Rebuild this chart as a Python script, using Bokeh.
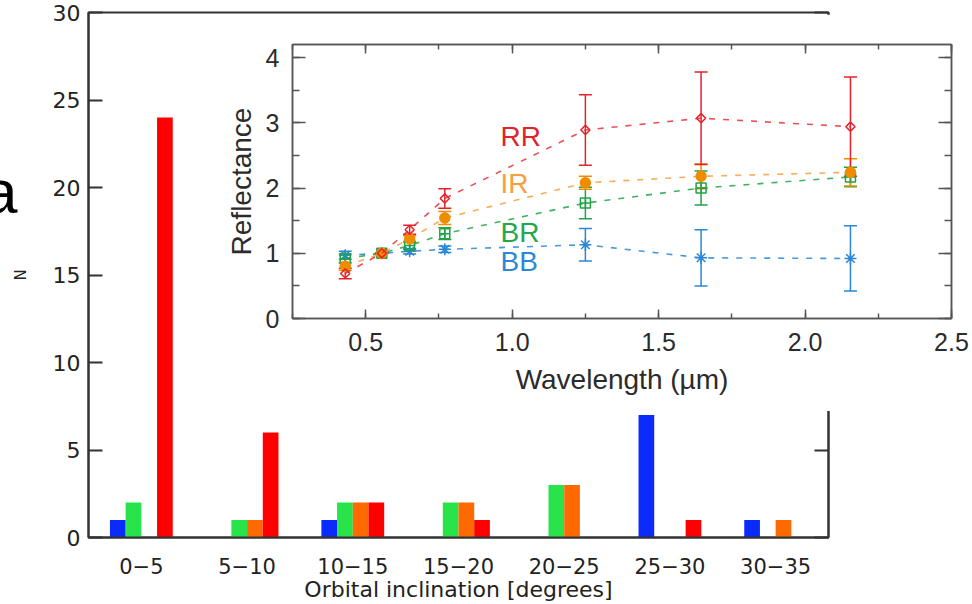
import numpy as np
from bokeh.plotting import figure
from bokeh.models import (FactorRange, Range1d, ColumnDataSource, LinearAxis,
                          SingleIntervalTicker, PrintfTickFormatter, Whisker, TeeHead, Div)
from bokeh.transform import dodge
from bokeh.core.properties import value
from bokeh.embed import file_html
from bokeh.resources import INLINE

# ---------------- data: histogram ----------------
categories = ["0\u22125", "5\u221210", "10\u221215", "15\u221220", "20\u221225", "25\u221230", "30\u221235"]
n_blue = [1, 0, 1, 0, 0, 7, 1]
n_green = [2, 1, 2, 2, 3, 0, 0]
n_orange = [0, 1, 2, 2, 3, 0, 1]
n_red = [24, 6, 2, 1, 0, 1, 0]
y_ticks_main = [0, 5, 10, 15, 20, 25, 30]

# ---------------- data: inset reflectance ----------------
wavelength = [0.43, 0.555, 0.65, 0.77, 1.25, 1.645, 2.155]
rr = [0.69, 1.00, 1.36, 1.84, 2.89, 3.07, 2.94]
rr_err = [0.08, 0.0, 0.07, 0.15, 0.54, 0.71, 0.76]
ir = [0.80, 1.00, 1.22, 1.54, 2.08, 2.18, 2.24]
ir_err = [0.06, 0.0, 0.05, 0.10, 0.10, 0.19, 0.21]
br = [0.92, 1.00, 1.12, 1.30, 1.77, 2.00, 2.17]
br_err = [0.07, 0.0, 0.06, 0.09, 0.24, 0.26, 0.15]
bb = [0.97, 1.00, 1.03, 1.06, 1.13, 0.93, 0.92]
bb_err = [0.06, 0.0, 0.04, 0.05, 0.25, 0.43, 0.50]
group_names = ["RR", "IR", "BR", "BB"]

# label positions (data coords) kept separate
label_x = [0.96, 0.96, 0.96, 0.96]
label_y = [2.79, 2.07, 1.32, 0.87]

FONT_MAIN = "DejaVu Sans"
FONT_INSET = "Liberation Sans"
AX = "#333333"

# ---------------- main histogram figure ----------------
src = ColumnDataSource(dict(cat=categories, blue=n_blue, green=n_green,
                            orange=n_orange, red=n_red))
p = figure(width=972, height=604,
           x_range=FactorRange(factors=categories, range_padding=0),
           y_range=Range1d(0, 30),
           min_border_left=88, min_border_right=144, min_border_top=12, min_border_bottom=66,
           output_backend="svg", toolbar_location=None)
p.grid.visible = False
p.outline_line_color = AX
p.outline_line_width = 2
p.background_fill_color = "white"
p.border_fill_color = "white"

w = 0.1485
bar_specs = [("blue", -1.5 * w, "#0b2bfa"), ("green", -0.5 * w, "#28e34a"),
             ("orange", 0.5 * w, "#ff6a00"), ("red", 1.5 * w, "#ff0000")]
for col, off, color in bar_specs:
    p.vbar(x=dodge("cat", off, range=p.x_range), top=col, width=w, source=src,
           fill_color=color, line_color=None)

p.yaxis.ticker = y_ticks_main
p.yaxis.major_tick_in = 14
p.yaxis.major_tick_out = 0
p.yaxis.minor_tick_line_color = None
p.yaxis.axis_line_width = 2
p.yaxis.axis_line_color = AX
p.yaxis.major_tick_line_width = 2
p.yaxis.major_tick_line_color = AX
p.yaxis.major_label_text_font = FONT_MAIN
p.yaxis.major_label_text_font_size = "22px"
p.yaxis.major_label_text_color = "#222222"
p.yaxis.major_label_standoff = 8
p.yaxis.axis_label = "N"
p.yaxis.axis_label_text_font = FONT_MAIN
p.yaxis.axis_label_text_font_size = "15px"
p.yaxis.axis_label_text_font_style = "normal"
p.yaxis.axis_label_text_color = "#222222"
p.yaxis.axis_label_standoff = 20

p.xaxis.major_tick_line_color = None
p.xaxis.minor_tick_line_color = None
p.xaxis.axis_line_width = 2
p.xaxis.axis_line_color = AX
p.xaxis.major_label_text_font = FONT_MAIN
p.xaxis.major_label_text_font_size = "21px"
p.xaxis.major_label_text_color = "#222222"
p.xaxis.major_label_standoff = 14
p.xaxis.axis_label = "Orbital inclination [degrees]"
p.xaxis.axis_label_text_font = FONT_MAIN
p.xaxis.axis_label_text_font_size = "22px"
p.xaxis.axis_label_text_font_style = "normal"
p.xaxis.axis_label_text_color = "#222222"
p.xaxis.axis_label_standoff = 0

right_ax = LinearAxis(ticker=y_ticks_main, major_label_text_color=None,
                      major_label_text_font_size="10px",
                      major_tick_in=14, major_tick_out=0, minor_tick_line_color=None,
                      axis_line_width=2, axis_line_color=AX,
                      major_tick_line_width=2, major_tick_line_color=AX)
p.add_layout(right_ax, "right")

p.styles = {"position": "absolute", "left": "0px", "top": "0px"}

# panel letter, partly outside the page on the left
panel = Div(text='<span style="font-family: \'Liberation Sans\', Arial, sans-serif; '
                 'font-size: 62px; line-height: 1; color: black;">a</span>',
            width=60, height=80, margin=0,
            styles={"position": "absolute", "left": "-17px", "top": "161px",
                    "font-family": "'Liberation Sans', Arial, sans-serif",
                    "font-size": "62px", "line-height": "1", "z-index": "3"})

# ---------------- inset reflectance figure ----------------
q = figure(width=757, height=397, x_range=Range1d(0.25, 2.5), y_range=Range1d(0, 4.2),
           min_border_left=77, min_border_right=21, min_border_top=30, min_border_bottom=93,
           output_backend="svg", toolbar_location=None)
q.grid.visible = False
q.outline_line_color = "#555555"
q.outline_line_width = 1.5
q.background_fill_color = "white"
q.border_fill_color = "white"

TXT = "#2b2b2b"
q.xaxis.ticker = SingleIntervalTicker(interval=0.5, num_minor_ticks=2)
q.xaxis.formatter = PrintfTickFormatter(format="%.1f")
q.yaxis.ticker = SingleIntervalTicker(interval=1, num_minor_ticks=2)
for ax in (q.xaxis, q.yaxis):
    ax.axis_line_color = "#555555"
    ax.axis_line_width = 1.5
    ax.major_tick_line_color = "#555555"
    ax.minor_tick_line_color = "#555555"
    ax.major_tick_line_width = 1.5
    ax.minor_tick_line_width = 1.5
    ax.major_tick_out = 0
    ax.minor_tick_out = 0
    ax.major_label_text_font = FONT_INSET
    ax.major_label_text_font_size = "25px"
    ax.major_label_text_color = TXT
    ax.axis_label_text_font = FONT_INSET
    ax.axis_label_text_font_size = "28px"
    ax.axis_label_text_font_style = "normal"
    ax.axis_label_text_color = TXT
q.xaxis.major_tick_in = 9
q.xaxis.minor_tick_in = 5
q.yaxis.major_tick_in = 13
q.yaxis.minor_tick_in = 7
q.xaxis.major_label_standoff = 14
q.yaxis.major_label_standoff = 13
q.xaxis.axis_label = "Wavelength (\u00b5m)"
q.yaxis.axis_label = "Reflectance"
q.xaxis.axis_label_standoff = 10
q.yaxis.axis_label_standoff = 6

top_ax = LinearAxis(ticker=SingleIntervalTicker(interval=0.5, num_minor_ticks=2),
                    major_label_text_color=None, major_label_text_font_size="8px",
                    major_tick_in=9, major_tick_out=0,
                    minor_tick_in=5, minor_tick_out=0, axis_line_color="#555555",
                    axis_line_width=1.5, major_tick_line_color="#555555",
                    minor_tick_line_color="#555555", major_tick_line_width=1.5,
                    minor_tick_line_width=1.5, major_label_standoff=0)
q.add_layout(top_ax, "above")
rt_ax = LinearAxis(ticker=SingleIntervalTicker(interval=1, num_minor_ticks=2),
                   major_label_text_color=None, major_label_text_font_size="8px",
                   major_tick_in=13, major_tick_out=0,
                   minor_tick_in=7, minor_tick_out=0, axis_line_color="#555555",
                   axis_line_width=1.5, major_tick_line_color="#555555",
                   minor_tick_line_color="#555555", major_tick_line_width=1.5,
                   minor_tick_line_width=1.5, major_label_standoff=0)
q.add_layout(rt_ax, "right")

wl = np.array(wavelength)
series = [
    ("BB", bb, bb_err, "#2a86d6", "asterisk", 12, False),
    ("BR", br, br_err, "#21a347", "square_cross", 10, False),
    ("IR", ir, ir_err, "#f08c00", "circle", 10, True),
    ("RR", rr, rr_err, "#e3222b", "square", 6.5, False),
]
line_colors = {"BB": "#2a86d6", "BR": "#21a347", "IR": "#f5a040", "RR": "#e8303a"}
for name, vals, errs, color, marker, size, filled in series:
    v = np.array(vals)
    e = np.array(errs)
    s = ColumnDataSource(dict(x=wl, y=v, up=v + e, lo=v - e))
    q.line("x", "y", source=s, line_color=line_colors[name], line_width=1.6,
           line_dash="6 8", line_alpha=0.85)
    q.add_layout(Whisker(source=s, base="x", upper="up", lower="lo", dimension="height",
                         line_color=color, line_width=1.5,
                         upper_head=TeeHead(size=13, line_color=color, line_width=1.5),
                         lower_head=TeeHead(size=13, line_color=color, line_width=1.5)))
    kw = dict(source=s, marker=marker, size=size, line_color=color, line_width=1.5)
    kw["fill_color"] = color if filled else None
    if name == "RR":
        kw["angle"] = np.pi / 4
    q.scatter("x", "y", **kw)

label_colors = ["#e3222b", "#f5a03c", "#22a84a", "#2a88d8"]
q.text(x=label_x, y=label_y, text=group_names, text_color=label_colors,
       text_font=value(FONT_INSET), text_font_size="28px",
       text_baseline="alphabetic", text_align="left")

q.styles = {"position": "absolute", "left": "215px", "top": "14px", "z-index": "2"}

open("out.html", "w").write(file_html([p, q, panel], INLINE))
